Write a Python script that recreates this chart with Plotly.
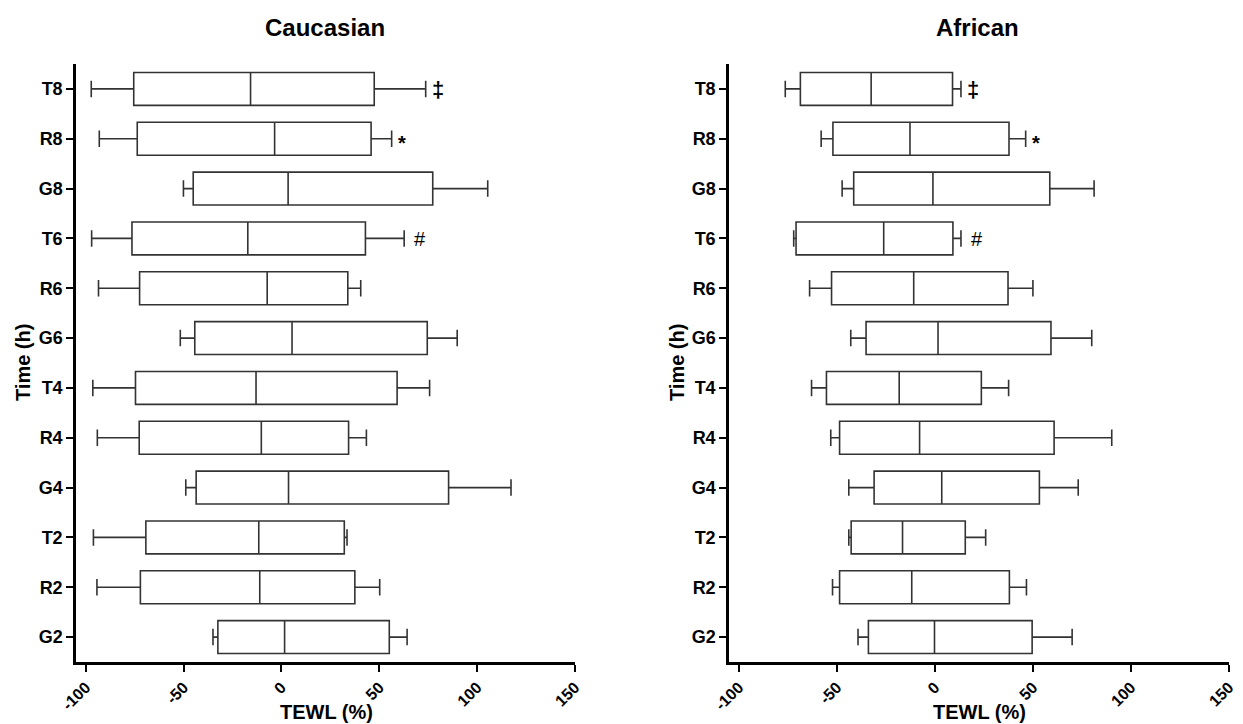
import plotly.graph_objects as go

categories = ["G2", "R2", "T2", "G4", "R4", "T4", "G6", "R6", "T6", "G8", "R8", "T8"]

# Caucasian: lower whisker, Q1, median, Q3, upper whisker
cau_low = [-35.0, -94.3, -96.1, -48.9, -94.1, -96.4, -51.7, -93.5, -97.0, -50.1, -93.1, -97.2]
cau_q1 = [-32.5, -72.1, -69.3, -43.6, -72.7, -74.6, -44.3, -72.5, -76.4, -45.1, -73.7, -75.5]
cau_med = [1.6, -11.1, -11.6, 3.6, -10.3, -13.0, 5.4, -7.3, -17.2, 3.4, -3.5, -15.8]
cau_q3 = [55.1, 37.5, 32.1, 85.4, 34.3, 59.1, 74.5, 33.9, 42.9, 77.3, 45.8, 47.4]
cau_high = [64.2, 50.2, 33.5, 117.3, 43.4, 75.7, 89.8, 40.5, 62.7, 105.4, 56.3, 73.7]

# African
afr_low = [-39.2, -52.2, -43.9, -43.9, -53.1, -62.9, -42.9, -63.9, -72.0, -47.3, -58.0, -76.3]
afr_q1 = [-33.9, -48.6, -42.7, -31.0, -48.6, -55.3, -35.1, -52.7, -70.8, -41.4, -52.0, -68.6]
afr_med = [-0.2, -11.8, -16.5, 3.5, -7.8, -18.2, 1.6, -10.8, -26.1, -1.0, -12.7, -32.5]
afr_q3 = [49.6, 38.0, 15.5, 53.3, 60.8, 23.7, 59.2, 37.3, 9.2, 58.6, 37.8, 9.0]
afr_high = [70.0, 46.7, 25.9, 73.1, 90.2, 37.6, 80.0, 50.0, 13.3, 81.2, 46.3, 13.3]

# significance marks: category -> symbol
marks = {"T8": "‡", "R8": "*", "T6": "#"}

x_ticks = [-100, -50, 0, 50, 100, 150]
FONT = "Liberation Sans, Arial, sans-serif"

fig = go.Figure()

def add_panel(low, q1, med, q3, high, xa, ya):
    fig.add_trace(go.Box(
        y=categories, q1=q1, median=med, q3=q3,
        lowerfence=low, upperfence=high,
        orientation="h", xaxis=xa, yaxis=ya,
        fillcolor="white", line=dict(color="#333333", width=1.6),
        whiskerwidth=0.5, width=0.66, boxpoints=False,
        hoverinfo="skip", showlegend=False,
    ))
    for cat, sym in marks.items():
        i = categories.index(cat)
        fig.add_annotation(
            x=high[i], y=cat, xref=xa, yref=ya,
            text=("<b>%s</b>" % sym) if sym != "#" else sym, showarrow=False,
            xanchor="left", xshift=(8 if sym == "#" else 4), yshift=(-4 if sym == "*" else -1),
            font=dict(family=FONT, size=22 if sym == "‡" else 20, color="black"),
        )

add_panel(cau_low, cau_q1, cau_med, cau_q3, cau_high, "x", "y")
add_panel(afr_low, afr_q1, afr_med, afr_q3, afr_high, "x2", "y2")

xaxis_common = dict(
    range=[-105, 150], tickvals=x_ticks, ticktext=["<b>%d</b>" % v for v in x_ticks],
    tickangle=-45, ticks="outside", ticklen=7, tickwidth=2, tickcolor="black",
    showline=True, linecolor="black", linewidth=2.5, showgrid=False, zeroline=False,
    tickfont=dict(family=FONT, size=16, color="black"), automargin=False,
)
yaxis_common = dict(
    range=[-0.5, 11.5], ticks="outside", ticklen=7, tickwidth=2, tickcolor="black",
    showline=True, linecolor="black", linewidth=2.5, showgrid=False, zeroline=False,
    categoryorder="array", categoryarray=categories,
    tickvals=categories, ticktext=["<b>%s</b>" % c for c in categories],
    tickfont=dict(family=FONT, size=18, color="black"), automargin=False,
)

fig.update_layout(
    width=1243, height=724,
    margin=dict(l=0, r=0, t=0, b=0, autoexpand=False),
    paper_bgcolor="white", plot_bgcolor="white",
    xaxis=dict(domain=[76/1243, 575/1243], anchor="y", **xaxis_common),
    yaxis=dict(domain=[1-662/724, 1-64/724], anchor="x", **yaxis_common),
    xaxis2=dict(domain=[729/1243, 1229/1243], anchor="y2", **xaxis_common),
    yaxis2=dict(domain=[1-662/724, 1-64/724], anchor="x2", **yaxis_common),
    font=dict(family=FONT, color="black"),
)

def paper_text(text, x, y, size, angle=0):
    fig.add_annotation(x=x/1243, y=1-y/724, xref="paper", yref="paper", text="<b>%s</b>" % text,
                       showarrow=False, xanchor="center", yanchor="middle", textangle=angle,
                       font=dict(family=FONT, size=size, color="black"))

paper_text("Caucasian", 325, 27, 24)
paper_text("African", 977, 27, 24)
paper_text("TEWL (%)", 326, 712, 20)
paper_text("TEWL (%)", 979, 712, 20)
paper_text("Time (h)", 23, 363, 20, -90)
paper_text("Time (h)", 677, 363, 20, -90)

fig.write_html("out.html")
